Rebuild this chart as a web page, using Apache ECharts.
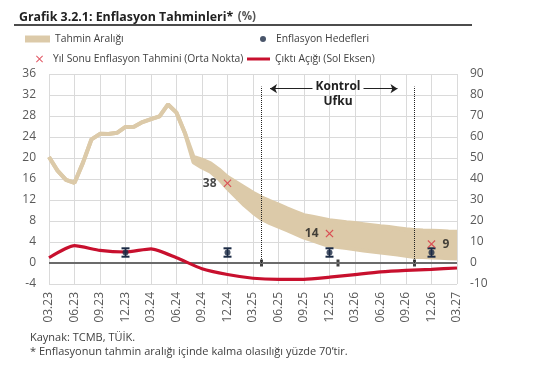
<!DOCTYPE html>
<html>
<head>
<meta charset="utf-8">
<script src="https://cdn.jsdelivr.net/npm/echarts@6/dist/echarts.min.js"></script>
<style>
  html, body { margin: 0; padding: 0; background: #fff; }
  #chart { width: 550px; height: 377px; }
</style>
</head>
<body>
<div id="chart"></div>
<script>
// aylik kategoriler (03.23 - 03.27)
const months = [
  '03.23', '04.23', '05.23', '06.23', '07.23', '08.23', '09.23', '10.23', '11.23', '12.23',
  '01.24', '02.24', '03.24', '04.24', '05.24', '06.24', '07.24', '08.24', '09.24', '10.24', '11.24', '12.24',
  '01.25', '02.25', '03.25', '04.25', '05.25', '06.25', '07.25', '08.25', '09.25', '10.25', '11.25', '12.25',
  '01.26', '02.26', '03.26', '04.26', '05.26', '06.26', '07.26', '08.26', '09.26', '10.26', '11.26', '12.26',
  '01.27', '02.27', '03.27'
];

// tahmin araligi alt / ust sinir (sag eksen, %)
const bandLow = [
  50.5, 44.0, 39.6, 38.2, 47.8, 58.9, 61.5, 61.4, 62.0, 64.8,
  64.9, 67.1, 68.5, 69.8, 75.5, 71.6, 61.8, 48.0, 45.5, 43.5, 40.0, 35.5,
  31.5, 27.5, 24.0, 21.0, 19.0, 17.3, 15.6, 13.9, 12.1, 10.8, 9.4, 8.1,
  7.6, 7.1, 6.5, 6.0, 5.5, 5.0, 4.5, 4.0, 3.4, 2.9, 2.8, 2.6,
  2.5, 2.3, 2.2
];
const bandHigh = [
  50.5, 44.0, 39.6, 38.2, 47.8, 58.9, 61.5, 61.4, 62.0, 64.8,
  64.9, 67.1, 68.5, 69.8, 75.5, 71.6, 61.8, 50.5, 49.2, 47.5, 44.5, 41.0,
  38.5, 36.0, 33.5, 31.3, 29.5, 27.8, 26.0, 24.4, 22.8, 22.0, 21.2, 20.4,
  19.9, 19.4, 19.0, 18.5, 18.0, 17.5, 17.1, 16.6, 16.1, 15.7, 15.5, 15.4,
  15.2, 15.0, 14.9
];

// ciktı acigi (sol eksen), ceyreklik
const gapMonths = ['03.23', '06.23', '09.23', '12.23', '03.24', '06.24', '09.24', '12.24',
  '03.25', '06.25', '09.25', '12.25', '03.26', '06.26', '09.26', '12.26', '03.27'];
const gapValues = [1.0, 3.3, 2.4, 2.1, 2.7, 1.0, -1.1, -2.2,
  -2.9, -3.1, -3.1, -2.7, -2.2, -1.7, -1.4, -1.2, -0.95];

// enflasyon hedefleri (sag eksen)
const targetMonths = ['12.23', '12.24', '12.25', '12.26'];
const targetValues = [5, 5, 5, 5];
const targetLow = [3, 3, 3, 3];
const targetHigh = [7, 7, 7, 7];

// yil sonu tahminleri (orta nokta)
const forecastMonths = ['12.24', '12.25', '12.26'];
const forecastValues = [38, 14, 9];

// kontrol ufku isaretleri
const markerMonths = ['04.25', '01.26', '10.26'];

const FONT = "'Open Sans', sans-serif";
const BAND = '#dccaa9';
const RED = '#c8102e';
const CROSS = '#d9303f';
const NAVY = '#1c2b45';
const GRID = '#dadada';
const XPATH = 'path://M1,0L5,4L9,0L10,1L6,5L10,9L9,10L5,6L1,10L0,9L4,5L0,1Z';
const LEGEND_TEXT = { fontSize: 10.3, color: '#404040', fontFamily: FONT };

const quarterTick = (idx) => idx % 3 === 0;

const chart = echarts.init(document.getElementById('chart'), null, { renderer: 'canvas' });

const option = {
  animation: false,
  textStyle: { fontFamily: FONT },
  title: {
    left: 14,
    top: 3,
    text: '{b|Grafik 3.2.1: Enflasyon Tahminleri*} {n|(%)}',
    textStyle: {
      rich: {
        b: { fontFamily: FONT, fontSize: 12.4, fontWeight: 'bold', color: '#222' },
        n: { fontFamily: FONT, fontSize: 11.5, color: '#555' }
      }
    }
  },
  legend: [
    {
      data: [{ name: 'Tahmin Aralığı', icon: 'rect' }],
      left: 25, top: 34, padding: 0,
      itemWidth: 25, itemHeight: 7,
      textStyle: LEGEND_TEXT
    },
    {
      data: [{ name: 'Enflasyon Hedefleri', icon: 'circle' }],
      left: 260, top: 34, padding: 0,
      itemWidth: 6, itemHeight: 6,
      textStyle: Object.assign({ padding: [0, 0, 0, 5] }, LEGEND_TEXT)
    },
    {
      data: [{ name: 'Yıl Sonu Enflasyon Tahmini (Orta Nokta)', icon: XPATH }],
      left: 36, top: 54, padding: 0,
      itemWidth: 7, itemHeight: 7,
      textStyle: Object.assign({ padding: [0, 0, 0, 5] }, LEGEND_TEXT)
    },
    {
      data: [{ name: 'Çıktı Açığı (Sol Eksen)', icon: 'rect' }],
      left: 247, top: 54, padding: 0,
      itemWidth: 23, itemHeight: 3,
      textStyle: LEGEND_TEXT
    }
  ],
  grid: { left: 49, right: 93, top: 74, bottom: 93 },
  xAxis: {
    type: 'category',
    data: months,
    boundaryGap: false,
    axisLine: { show: false },
    axisTick: { show: false },
    axisLabel: {
      interval: 0,
      formatter: (v, idx) => (quarterTick(idx) ? v : ''),
      rotate: 90,
      margin: 8,
      fontSize: 12,
      color: '#595959',
      fontFamily: FONT
    },
    splitLine: { show: true, interval: quarterTick, lineStyle: { color: GRID, width: 1 } }
  },
  yAxis: [
    {
      type: 'value',
      min: -4, max: 36, interval: 4,
      axisLine: { show: false },
      axisTick: { show: false },
      axisLabel: { fontSize: 12, color: '#595959', margin: 13, fontFamily: FONT },
      splitLine: { lineStyle: { color: GRID, width: 1 } }
    },
    {
      type: 'value',
      min: -10, max: 90, interval: 10,
      position: 'right',
      axisLine: { show: false },
      axisTick: { show: false },
      axisLabel: { fontSize: 12, color: '#595959', margin: 13, fontFamily: FONT },
      splitLine: { show: false }
    }
  ],
  graphic: [
    {
      type: 'line',
      shape: { x1: 14, y1: 25, x2: 472, y2: 25 },
      style: { stroke: '#111', lineWidth: 1.5 }
    },
    {
      type: 'text', left: 30, top: 332,
      style: { text: 'Kaynak: TCMB, TÜİK.', font: '11px ' + FONT, fill: '#404040' }
    },
    {
      type: 'text', left: 30, top: 346,
      style: { text: '* Enflasyonun tahmin aralığı içinde kalma olasılığı yüzde 70\u2019tir.', font: '11px ' + FONT, fill: '#404040' }
    }
  ],
  series: [
    {
      name: 'bandAlt',
      type: 'line',
      yAxisIndex: 1,
      stack: 'band',
      data: bandLow,
      symbol: 'none',
      lineStyle: { color: BAND, width: 4 },
      itemStyle: { color: BAND },
      z: 1
    },
    {
      name: 'Tahmin Aralığı',
      type: 'line',
      yAxisIndex: 1,
      stack: 'band',
      data: bandHigh.map((h, i) => +(h - bandLow[i]).toFixed(2)),
      symbol: 'none',
      lineStyle: { color: BAND, width: 4 },
      itemStyle: { color: BAND },
      areaStyle: { color: BAND, opacity: 1 },
      z: 1
    },
    {
      // sifir cizgisi, kontrol ufku cizgileri ve isaretler
      name: 'isaret',
      type: 'scatter',
      yAxisIndex: 0,
      data: markerMonths.map((m) => [m, 0]),
      symbol: 'rect',
      symbolSize: [3, 7],
      itemStyle: { color: '#111' },
      z: 3,
      markLine: {
        silent: true,
        symbol: ['none', 'none'],
        label: { show: false },
        data: [
          [{ coord: [months[0], 0], lineStyle: { color: '#6b6b6b', width: 2, type: 'solid' } },
           { coord: [months[months.length - 1], 0] }],
          [{ coord: ['04.25', 0], lineStyle: { color: '#222', width: 1, type: 'dotted' } },
           { coord: ['04.25', 33.6] }],
          [{ coord: ['10.26', 0], lineStyle: { color: '#222', width: 1, type: 'dotted' } },
           { coord: ['10.26', 33.6] }],
          [{ coord: ['10.25', 33.2], symbol: 'none', lineStyle: { color: '#222', width: 1, type: 'solid' } },
           { coord: ['05.25', 33.2], symbol: 'arrow', symbolSize: 7 }],
          [{ coord: ['04.26', 33.2], symbol: 'none', lineStyle: { color: '#222', width: 1, type: 'solid' } },
           { coord: ['08.26', 33.2], symbol: 'arrow', symbolSize: 7 }]
        ]
      },
      markPoint: {
        silent: true,
        symbol: 'rect',
        symbolSize: 1,
        itemStyle: { color: 'rgba(0,0,0,0)' },
        label: {
          show: true,
          position: 'inside',
          formatter: 'Kontrol\nUfku',
          fontFamily: FONT,
          fontSize: 12,
          fontWeight: 'bold',
          lineHeight: 15,
          color: '#222'
        },
        data: [{ coord: ['01.26', 32.15] }]
      }
    },
    {
      name: 'Çıktı Açığı (Sol Eksen)',
      type: 'line',
      yAxisIndex: 0,
      data: gapMonths.map((m, i) => [m, gapValues[i]]),
      symbol: 'none',
      smooth: 0.2,
      lineStyle: { color: RED, width: 3.2 },
      itemStyle: { color: RED },
      z: 5
    },
    {
      name: 'hedefAralik',
      type: 'custom',
      yAxisIndex: 1,
      data: targetMonths.map((m, i) => [m, targetLow[i], targetHigh[i]]),
      encode: { x: 0, y: [1, 2] },
      renderItem: (params, api) => {
        const lo = api.coord([api.value(0), api.value(1)]);
        const hi = api.coord([api.value(0), api.value(2)]);
        const w = 4;
        return {
          type: 'group',
          children: [
            { type: 'line', shape: { x1: lo[0], y1: lo[1], x2: hi[0], y2: hi[1] }, style: { stroke: NAVY, lineWidth: 1.5 } },
            { type: 'line', shape: { x1: lo[0] - w, y1: lo[1], x2: lo[0] + w, y2: lo[1] }, style: { stroke: NAVY, lineWidth: 2 } },
            { type: 'line', shape: { x1: hi[0] - w, y1: hi[1], x2: hi[0] + w, y2: hi[1] }, style: { stroke: NAVY, lineWidth: 2 } }
          ]
        };
      },
      z: 6
    },
    {
      name: 'Enflasyon Hedefleri',
      type: 'scatter',
      yAxisIndex: 1,
      data: targetMonths.map((m, i) => [m, targetValues[i]]),
      symbol: 'circle',
      symbolSize: 6,
      itemStyle: { color: NAVY },
      z: 7
    },
    {
      name: 'Yıl Sonu Enflasyon Tahmini (Orta Nokta)',
      type: 'scatter',
      yAxisIndex: 1,
      data: forecastMonths.map((m, i) => ({
        value: [m, forecastValues[i]],
        label: { position: i === forecastMonths.length - 1 ? 'right' : 'left' }
      })),
      symbol: XPATH,
      symbolSize: 8,
      itemStyle: { color: CROSS },
      label: {
        show: true,
        formatter: (p) => p.value[1],
        distance: 7,
        fontFamily: FONT,
        fontSize: 12,
        fontWeight: 'bold',
        color: '#1a1a1a'
      },
      z: 8
    }
  ]
};

chart.setOption(option);
window.addEventListener('resize', () => {
  chart.resize();
});
</script>
</body>
</html>
